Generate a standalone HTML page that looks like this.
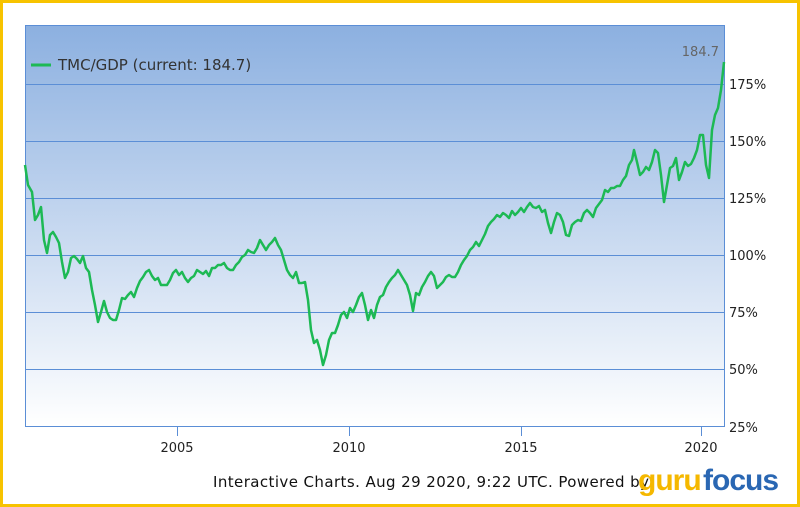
<!DOCTYPE html>
<html><head><style>
body{margin:0;width:800px;height:507px;overflow:hidden;background:#fff;font-family:"DejaVu Sans","Liberation Sans",sans-serif}
</style></head><body>
<svg width="800" height="507" xmlns="http://www.w3.org/2000/svg" style="position:absolute;left:0;top:0" font-family="DejaVu Sans, Liberation Sans, sans-serif">
<defs><linearGradient id="g" x1="0" y1="0" x2="0" y2="1"><stop offset="0" stop-color="#8cb0e0"/><stop offset="1" stop-color="#ffffff"/></linearGradient></defs>
<rect x="1.5" y="1.5" width="797" height="504" fill="none" stroke="#f7c300" stroke-width="3"/>
<rect x="25.5" y="25.5" width="699" height="401" fill="url(#g)" stroke="#5b8ed6" stroke-width="1"/>
<g stroke="#5b8ed6" stroke-width="1">
<line x1="25" y1="84.5" x2="725" y2="84.5"/><line x1="25" y1="141.5" x2="725" y2="141.5"/><line x1="25" y1="198.5" x2="725" y2="198.5"/><line x1="25" y1="255.5" x2="725" y2="255.5"/><line x1="25" y1="312.5" x2="725" y2="312.5"/><line x1="25" y1="369.5" x2="725" y2="369.5"/>
<line x1="177.5" y1="427" x2="177.5" y2="436"/><line x1="349.5" y1="427" x2="349.5" y2="436"/><line x1="521.5" y1="427" x2="521.5" y2="436"/><line x1="701.5" y1="427" x2="701.5" y2="436"/>
</g>
<g font-size="13" fill="#222">
<text x="729" y="89">175%</text><text x="729" y="146">150%</text><text x="729" y="203">125%</text><text x="729" y="260">100%</text><text x="729" y="317">75%</text><text x="729" y="374">50%</text><text x="729" y="432">25%</text>
<text x="177" y="452" text-anchor="middle">2005</text><text x="349" y="452" text-anchor="middle">2010</text><text x="521" y="452" text-anchor="middle">2015</text><text x="701" y="452" text-anchor="middle">2020</text>
</g>
<text x="719" y="56" font-size="13" fill="#666" text-anchor="end">184.7</text>
<line x1="31" y1="65" x2="51" y2="65" stroke="#1db954" stroke-width="3"/>
<text x="58" y="70" font-size="15" fill="#333">TMC/GDP (current: 184.7)</text>
<polyline fill="none" stroke="#1db954" stroke-width="2.5" stroke-linejoin="round" points="25,165 28,185 32,192 35,220 38,215 41,207 44,240 47,253 50,235 53,232 56,237 59,243 62,262 65,278 68,272 71,258 74,256 77,259 80,263 83,256 86,268 89,272 92,290 95,305 98,322 101,312 104,301 107,312 110,318 113,320 116,320 119,310 122,298 125,299 128,295 131,292 134,297 137,288 140,281 143,277 146,272 149,270 152,276 155,280 158,278 161,285 164,285 167,285 170,280 173,273 176,270 179,275 182,272 185,278 188,282 191,278 194,276 197,270 200,272 203,274 206,271 209,276 212,268 215,268 218,265 221,265 224,263 227,268 230,270 233,270 236,265 239,262 242,257 245,255 248,250 251,252 254,253 257,248 260,240 263,245 266,250 269,245 272,242 275,238 278,245 281,250 284,260 287,270 290,275 293,278 296,272 299,283 302,283 305,282 308,300 311,330 314,343 317,340 320,350 323,365 326,355 329,340 332,333 335,333 338,325 341,315 344,312 347,318 350,308 353,312 356,305 359,297 362,293 365,305 368,320 371,310 374,318 377,305 380,297 383,295 386,287 389,282 392,278 395,275 398,270 401,275 404,280 407,285 410,295 413,311 416,293 419,295 422,287 425,282 428,276 431,272 434,276 437,288 440,285 443,282 446,277 449,275 452,277 455,277 458,272 461,265 464,260 467,256 470,250 473,247 476,242 479,246 482,240 485,234 488,226 491,222 494,219 497,215 500,217 503,213 506,215 509,218 512,211 515,215 518,212 521,208 524,212 527,207 530,203 533,207 536,208 539,206 542,212 545,210 548,223 551,233 554,222 557,213 560,215 563,222 566,235 569,236 572,225 575,222 578,220 581,221 584,213 587,210 590,213 593,217 596,208 599,204 602,200 605,190 608,192 611,188 614,188 617,186 620,186 623,180 626,176 629,165 632,160 634,150 637,162 640,175 643,172 646,167 649,170 652,162 655,150 658,153 661,175 664,202 667,185 670,168 673,166 676,158 679,180 682,172 685,162 688,166 691,164 694,158 697,150 700,135 703,135 706,165 709,178 712,130 715,115 718,108 721,90 724,62"/>
<text x="213" y="487" font-size="15" fill="#111" textLength="436">Interactive Charts. Aug 29 2020, 9:22 UTC. Powered by</text>
<text x="638" y="490" font-size="30" font-weight="bold" fill="#f5b800" letter-spacing="-1" font-family="Liberation Sans, sans-serif">guru</text>
<text x="703" y="490" font-size="30" font-weight="bold" fill="#2a67b3" letter-spacing="-1" font-family="Liberation Sans, sans-serif">focus</text>
</svg>
</body></html>
